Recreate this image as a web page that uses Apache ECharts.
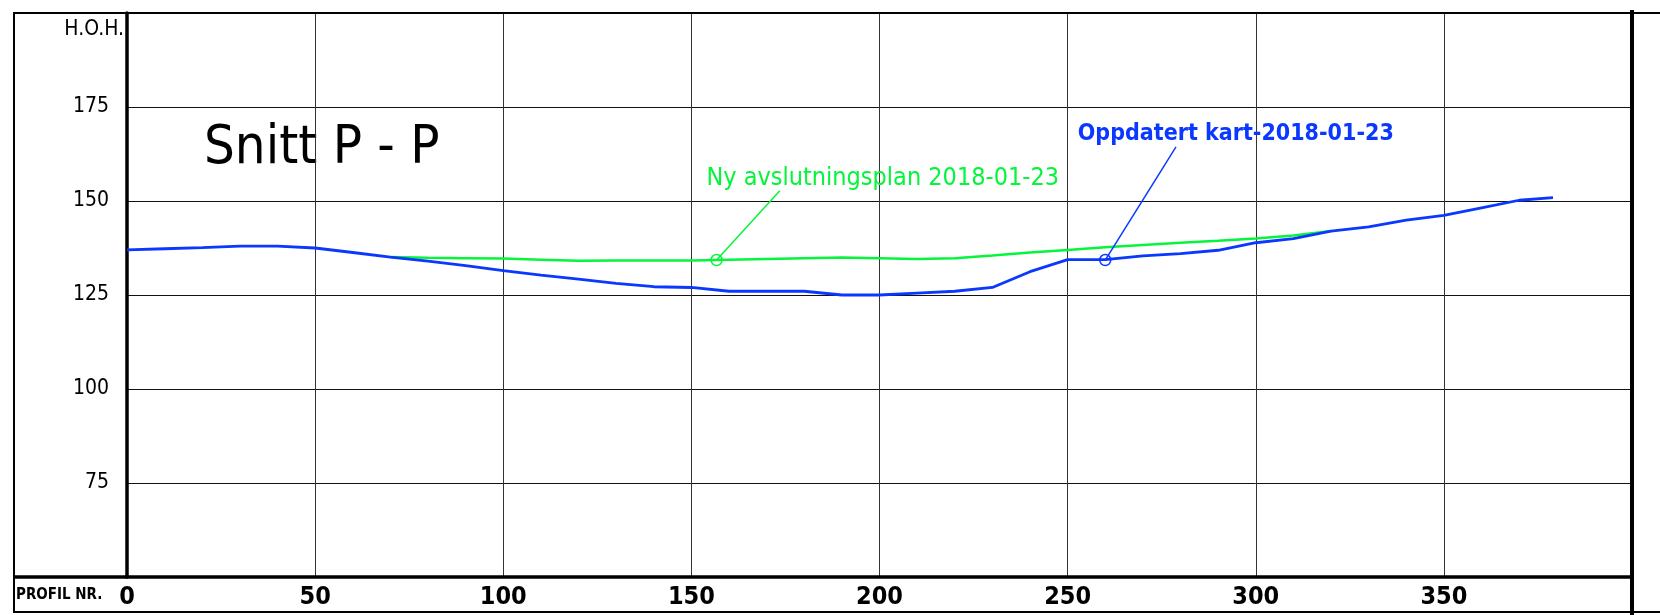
<!DOCTYPE html>
<html>
<head>
<meta charset="utf-8">
<script src="https://cdn.jsdelivr.net/npm/echarts@6/dist/echarts.min.js"></script>
<style>
  html, body { margin: 0; padding: 0; background: #fff; }
  #chart { width: 1660px; height: 615px; }
</style>
</head>
<body>
<div id="chart"></div>
<script>
// profile distance (m) and elevation (m o.h.)
const blueX = [0, 10, 20, 30, 40, 50, 60, 70, 80, 90, 100, 110, 120, 130, 140, 150, 160, 170, 180, 190, 200,
  210, 220, 230, 240, 250, 260, 270, 280, 290, 300, 310, 320, 330, 340, 350, 360, 370, 379];
const blueY = [137, 137.3, 137.6, 138, 138, 137.5, 136.3, 135.1, 134, 132.8, 131.5, 130.3, 129.2, 128.1, 127.2, 127, 126, 126, 126, 125, 125,
  125.5, 126, 127, 131.2, 134.4, 134.4, 135.4, 136, 136.9, 138.9, 140, 142, 143.1, 144.9, 146.2, 148.2, 150.2, 150.9];

const greenX = [70, 80, 90, 100, 110, 120, 130, 140, 150, 160, 170, 180, 190, 200, 210, 220, 230, 240, 250, 260,
  270, 280, 290, 300, 310, 320];
const greenY = [135.1, 134.9, 134.8, 134.7, 134.4, 134.1, 134.2, 134.2, 134.2, 134.4, 134.6, 134.8, 135, 134.8, 134.6, 134.8, 135.5, 136.3, 137, 137.7,
  138.3, 138.9, 139.4, 140, 140.8, 142];

const xTicks = [0, 50, 100, 150, 200, 250, 300, 350];
const yTicks = [75, 100, 125, 150, 175];

// annotations: circle on line, leader end, text start
const greenNote = { text: 'Ny avslutningsplan 2018-01-23', point: [156.7, 134.3], leader: [173.5, 152.7], label: [154, 155.9] };
const blueNote = { text: 'Oppdatert kart-2018-01-23', point: [260, 134.3], leader: [278.8, 164.4], label: [252.7, 167.7] };

const GREEN = '#05f53a';
const BLUE = '#0a38ff';
const FONT = "'DejaVu Sans Condensed', 'DejaVu Sans', sans-serif";

const chart = echarts.init(document.getElementById('chart'));

const zip = (xs, ys) => xs.map((x, i) => [x, ys[i]]);

function noteSeries(note, color, bold, size) {
  return [
    {
      type: 'line', data: [note.point, note.leader], showSymbol: false, silent: true,
      lineStyle: { color: color, width: 1.5 }, z: 4
    },
    {
      type: 'scatter', data: [note.point], symbol: 'circle', symbolSize: 11, silent: true,
      itemStyle: { color: 'transparent', borderColor: color, borderWidth: 1.5, opacity: 1 }, z: 5
    },
    {
      type: 'scatter', data: [note.label], symbolSize: 0, silent: true,
      itemStyle: { opacity: 1 },
      label: {
        show: true, position: 'right', distance: 0, formatter: note.text,
        color: color, fontFamily: FONT, fontSize: size, fontWeight: bold ? 'bold' : 'normal'
      }
    }
  ];
}

const frame = (x1, y1, x2, y2, w) => ({
  type: 'line', shape: { x1, y1, x2, y2 }, style: { stroke: '#000', lineWidth: w }, z: 10
});

chart.setOption({
  animation: false,
  backgroundColor: '#fff',
  grid: { left: 127, right: 28, top: 13, bottom: 38 },
  xAxis: {
    type: 'value', min: 0, max: 400, interval: 50,
    axisLine: { lineStyle: { color: '#000', width: 3.5 } },
    axisTick: { show: false },
    splitLine: { lineStyle: { color: '#333', width: 1 } },
    axisLabel: {
      margin: 8, color: '#000', fontFamily: FONT, fontSize: 25, fontWeight: 'bold',
      formatter: v => xTicks.includes(v) ? String(v) : ''
    }
  },
  yAxis: {
    type: 'value', min: 50, max: 200, interval: 25,
    axisLine: { show: true, lineStyle: { color: '#000', width: 3.5 } },
    axisTick: { show: false },
    splitLine: { lineStyle: { color: '#111', width: 1 } },
    axisLabel: {
      margin: 18, color: '#000', fontFamily: FONT, fontSize: 21,
      formatter: v => yTicks.includes(v) ? String(v) : ''
    }
  },
  graphic: [
    frame(14, 13, 1660, 13, 2),
    frame(14, 12, 14, 613, 2),
    frame(14, 612, 1660, 612, 2),
    frame(1632, 10, 1632, 615, 4),
    frame(14, 577, 127, 577, 3.5),
    {
      type: 'text', right: 1660 - 124, top: 19,
      style: { text: 'H.O.H.', fill: '#000', font: '21px ' + FONT }
    },
    {
      type: 'text', left: 16, top: 588,
      style: { text: 'PROFIL NR.', fill: '#000', font: 'bold 15px ' + FONT }
    },
    {
      type: 'text', left: 204, top: 122,
      style: { text: 'Snitt P - P', fill: '#000', font: '54px ' + FONT }
    }
  ],
  series: [
    {
      type: 'line', data: zip(greenX, greenY), showSymbol: false, silent: true,
      lineStyle: { color: GREEN, width: 2.5 }, z: 2
    },
    {
      type: 'line', data: zip(blueX, blueY), showSymbol: false, silent: true,
      lineStyle: { color: BLUE, width: 2.8 }, z: 3
    },
    ...noteSeries(greenNote, GREEN, false, 25),
    ...noteSeries(blueNote, BLUE, true, 23)
  ]
});
</script>
</body>
</html>
